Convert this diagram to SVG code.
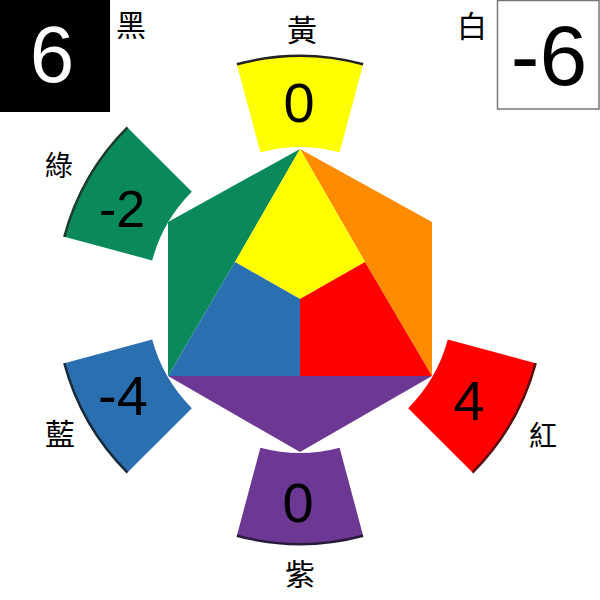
<svg xmlns="http://www.w3.org/2000/svg" width="600" height="600" viewBox="0 0 600 600">
<style>
.num{font-family:"Liberation Sans",Arial,sans-serif;text-anchor:middle;fill:#000}
.cjk{font-family:"Noto Sans CJK TC","Noto Sans CJK SC",sans-serif;text-anchor:middle;fill:#000}
.rim{fill:none;stroke-width:2.5}
</style>
<rect width="600" height="600" fill="#fff"/>
<g id="sectors">
<g id="sector-yellow">
<path d="M236.85 64.31 A244 244 0 0 1 363.15 64.31 L339.6 152.21 A153 153 0 0 0 260.4 152.21 Z" fill="#ffff00"/>
<path class="rim" d="M236.85 64.31 A244 244 0 0 1 363.15 64.31" stroke="#222"/>
<text class="num" x="299" y="122" font-size="56">0</text>
</g>
<g id="sector-green">
<path d="M64.31 236.85 A244 244 0 0 1 127.47 127.47 L191.81 191.81 A153 153 0 0 0 152.21 260.4 Z" fill="#0a8a5a"/>
<path class="rim" d="M64.31 236.85 A244 244 0 0 1 127.47 127.47" stroke="#1e3a2a"/>
<text class="num" x="122" y="227" font-size="52">-2</text>
</g>
<g id="sector-blue">
<path d="M127.47 472.53 A244 244 0 0 1 64.31 363.15 L152.21 339.6 A153 153 0 0 0 191.81 408.19 Z" fill="#2a70b0"/>
<path class="rim" d="M127.47 472.53 A244 244 0 0 1 64.31 363.15" stroke="#1a2a3a"/>
<text class="num" x="123" y="415" font-size="56">-4</text>
</g>
<g id="sector-purple">
<path d="M363.15 535.69 A244 244 0 0 1 236.85 535.69 L260.4 447.79 A153 153 0 0 0 339.6 447.79 Z" fill="#6c3893"/>
<path class="rim" d="M363.15 535.69 A244 244 0 0 1 236.85 535.69" stroke="#2a1a3a"/>
<text class="num" x="298" y="522" font-size="56">0</text>
</g>
<g id="sector-red">
<path d="M535.69 363.15 A244 244 0 0 1 472.53 472.53 L408.19 408.19 A153 153 0 0 0 447.79 339.6 Z" fill="#ff0000"/>
<path class="rim" d="M535.69 363.15 A244 244 0 0 1 472.53 472.53" stroke="#5a1010"/>
<text class="num" x="469" y="420" font-size="56">4</text>
</g>
</g>
<g id="hexagon">
<polygon points="300,149 168,222 168,376 235,262" fill="#0a8a5a"/>
<polygon points="300,149 432,222 432,376 365,262" fill="#ff8c00"/>
<polygon points="300,149 365,262 300,299 235,262" fill="#ffff00"/>
<polygon points="235,262 300,299 300,376 168,376" fill="#2a70b0"/>
<polygon points="365,262 432,376 300,376 300,299" fill="#ff0000"/>
<polygon points="168,376 432,376 300,452" fill="#6c3893"/>
</g>
<g id="black-box">
<rect x="0" y="0" width="110" height="112" fill="#000"/>
<text class="num" x="52" y="82" font-size="80" style="fill:#fff">6</text>
</g>
<g id="white-box">
<rect x="497.5" y="0.5" width="101.5" height="108.5" fill="#fff" stroke="#777" stroke-width="1.5"/>
<text class="num" x="549" y="85" font-size="86">-6</text>
</g>
<g id="labels">
<text class="cjk" x="131" y="36" font-size="30">黑</text>
<text class="cjk" x="472" y="37" font-size="30">白</text>
<text class="cjk" x="302" y="41" font-size="30">黃</text>
<text class="cjk" x="59" y="176" font-size="28">綠</text>
<text class="cjk" x="60" y="445" font-size="30">藍</text>
<text class="cjk" x="543" y="446" font-size="28">紅</text>
<text class="cjk" x="300" y="585" font-size="30">紫</text>
</g>
</svg>
